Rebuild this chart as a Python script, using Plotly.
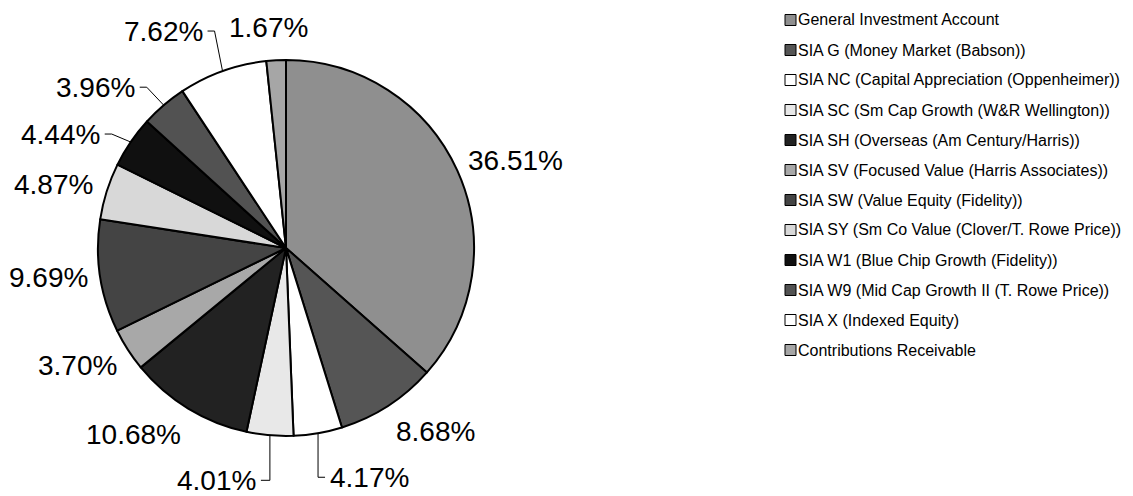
import math
import plotly.graph_objects as go

# ---------------- data ----------------
categories = [
    "General Investment Account",
    "SIA G (Money Market (Babson))",
    "SIA NC (Capital Appreciation (Oppenheimer))",
    "SIA SC (Sm Cap Growth (W&R Wellington))",
    "SIA SH (Overseas (Am Century/Harris))",
    "SIA SV (Focused Value (Harris Associates))",
    "SIA SW (Value Equity (Fidelity))",
    "SIA SY (Sm Co Value (Clover/T. Rowe Price))",
    "SIA W1 (Blue Chip Growth (Fidelity))",
    "SIA W9 (Mid Cap Growth II (T. Rowe Price))",
    "SIA X (Indexed Equity)",
    "Contributions Receivable",
]
values = [36.51, 8.68, 4.17, 4.01, 10.68, 3.70, 9.69, 4.87, 4.44, 3.96, 7.62, 1.67]

# ---------------- styles ----------------
colors = ["#8f8f8f", "#555555", "#ffffff", "#e8e8e8", "#222222", "#a8a8a8",
          "#444444", "#d8d8d8", "#101010", "#525252", "#ffffff", "#a6a6a6"]

W, H = 1133, 496
CX, CY, R = 278, 240, 188          # pie centre / radius in pixels
LABEL_FONT = dict(family="Liberation Sans, Arial, sans-serif", size=28, color="black")
LEG_FONT = dict(family="Liberation Sans, Arial, sans-serif", size=16, color="black")
GAP = 10
# labels drawn with leader lines: offset of label end from the slice edge point (px)
leader_offsets = {10: (-18, -40), 9: (-27, -18), 8: (-29, -8), 3: (-12, 45), 2: (10, 44)}
# small placement nudges for the other labels (px)
label_nudges = {0: (0, -6), 5: (0, -7), 7: (-2, -4), 11: (-7, -5)}

def px(x, y):
    return x / W, 1 - y / H

fig = go.Figure(go.Pie(
    labels=categories, values=values, sort=False, direction="clockwise", rotation=0,
    marker=dict(colors=colors, line=dict(color="black", width=2)),
    textinfo="none", hoverinfo="label+percent", showlegend=False,
    domain=dict(x=[(CX - R) / W, (CX + R) / W], y=[(H - CY - R) / H, (H - CY + R) / H]),
))

total = sum(values)
annotations, shapes = [], []
cum = 0.0
for i, v in enumerate(values):
    mid = (cum + v / 2) / total * 2 * math.pi
    cum += v
    s, c = math.sin(mid), math.cos(mid)
    ex, ey = CX + R * s, CY - R * c
    txt = f"{v:.2f}%"
    if i in leader_offsets:
        dx, dy = leader_offsets[i]
        lx, ly = ex + dx, ey + dy
        xanchor = "left" if dx > 0 else "right"
        elbow_x = ex if abs(dx) < 15 else lx + (10 if dx < 0 else -10)
        x1, y1 = px(ex, ey)
        x2, y2 = px(elbow_x, ly)
        x3, y3 = px(lx + (-3 if dx > 0 else 3), ly)
        shapes.append(dict(type="path", xref="paper", yref="paper",
                           path=f"M {x1} {y1} L {x2} {y2} L {x3} {y3}",
                           line=dict(color="black", width=1)))
        ax, ay = px(lx, ly)
        annotations.append(dict(x=ax, y=ay, xref="paper", yref="paper", text=txt,
                                showarrow=False, xanchor=xanchor, yanchor="middle",
                                font=LABEL_FONT))
    else:
        nx, ny = label_nudges.get(i, (0, 0))
        axp, ayp = CX + (R + GAP) * s + nx, CY - (R + GAP) * c + ny
        xanchor = "left" if s > 0.3 else ("right" if s < -0.3 else "center")
        yanchor = "bottom" if c > 0.45 else ("top" if c < -0.45 else "middle")
        ax, ay = px(axp, ayp)
        annotations.append(dict(x=ax, y=ay, xref="paper", yref="paper", text=txt,
                                showarrow=False, xanchor=xanchor, yanchor=yanchor,
                                font=LABEL_FONT))

# manual legend
LEG_X, LEG_Y0, LEG_DY, BOX = 777, 12, 30, 11
for i, name in enumerate(categories):
    yc = LEG_Y0 + i * LEG_DY
    x0, y0 = px(LEG_X, yc + BOX / 2)
    x1, y1 = px(LEG_X + BOX, yc - BOX / 2)
    shapes.append(dict(type="rect", xref="paper", yref="paper", x0=x0, y0=y0, x1=x1, y1=y1,
                       fillcolor=colors[i], line=dict(color="black", width=1)))
    tx, ty = px(LEG_X + BOX, yc)
    annotations.append(dict(x=tx, y=ty, xref="paper", yref="paper", text=name,
                            showarrow=False, xanchor="left", yanchor="middle", font=LEG_FONT))

fig.update_layout(
    width=W, height=H, margin=dict(l=0, r=0, t=0, b=0),
    paper_bgcolor="white", plot_bgcolor="white",
    annotations=annotations, shapes=shapes, showlegend=False,
)
fig.write_html("out.html")
